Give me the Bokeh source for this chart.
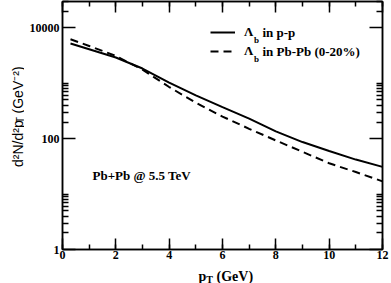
from bokeh.plotting import figure
from bokeh.models import (Range1d, FixedTicker, SingleIntervalTicker, NumeralTickFormatter,
                          LinearAxis, LogAxis, Label, Legend, LegendItem)
from bokeh.layouts import row, column
from bokeh.embed import file_html
from bokeh.resources import INLINE
import math

# ---- data ----
pt = [0.3, 1, 2, 3, 4, 5, 6, 7, 8, 9, 10, 11, 12]
lambda_b_pp = [5220, 4120, 2920, 1850, 1030, 607, 372, 231, 136, 87, 60, 42, 31]
lambda_b_pbpb = [6250, 4730, 3120, 1770, 857, 447, 251, 151, 93, 58, 36, 25, 17]

x_major = [0, 2, 4, 6, 8, 10, 12]
y_major = [1, 100, 10000]
y_minor = [2, 3, 4, 5, 6, 7, 8, 9, 10, 200, 300, 400, 500, 600, 700, 800, 900, 1000, 20000, 30000]

XMIN, XMAX = 0, 12
YMIN, YMAX = 1, 30000

SERIF = "Liberation Serif"
SANS = "Liberation Sans"

# page geometry in px (the layout is drawn from the page's top-left corner)
TOTAL_W, TOTAL_H = 391, 283
YLAB_W = 24
FL, FR, FT, FB = 62, 382, 1, 249        # frame edges
MAIN_W = TOTAL_W - YLAB_W
BOTTOM_AXIS = 14
MAIN_H = FB + BOTTOM_AXIS               # 263
XLAB_TOP = MAIN_H
XLAB_H = TOTAL_H - XLAB_TOP             # 20

p = figure(width=MAIN_W, height=MAIN_H, output_backend="svg", toolbar_location=None, title=None,
           y_axis_type="log", x_range=Range1d(XMIN, XMAX), y_range=Range1d(YMIN, YMAX),
           min_border_left=FL - YLAB_W, min_border_right=TOTAL_W - FR, min_border_top=FT,
           min_border_bottom=BOTTOM_AXIS)
p.background_fill_color = "white"
p.border_fill_color = "white"
p.outline_line_color = "black"
p.outline_line_width = 1.5
p.xgrid.visible = False
p.ygrid.visible = False

xt = SingleIntervalTicker(interval=2, num_minor_ticks=2)
yt = FixedTicker(ticks=y_major, minor_ticks=y_minor)


def style_axis(ax, is_x, labels=True):
    ax.axis_line_color = "black"
    ax.axis_line_width = 1.5
    ax.major_tick_line_color = "black"
    ax.minor_tick_line_color = "black"
    ax.major_tick_line_width = 1.5
    ax.minor_tick_line_width = 1.5
    ax.major_tick_out = 0
    ax.minor_tick_out = 0
    ax.major_tick_in = 11 if is_x else 13
    ax.minor_tick_in = 5 if is_x else 6
    ax.major_label_text_font = SERIF
    ax.major_label_text_font_style = "bold"
    if labels:
        ax.major_label_text_color = "black"
        ax.major_label_text_font_size = "12px"
        ax.major_label_standoff = 1 if is_x else 3
    else:
        ax.major_label_text_color = None
        ax.major_label_text_font_size = "0px"
        ax.major_label_standoff = 0


p.xaxis.ticker = xt
p.yaxis.ticker = yt
p.yaxis.formatter = NumeralTickFormatter(format="0")
style_axis(p.xaxis[0], True)
style_axis(p.yaxis[0], False)

top_ax = LinearAxis(ticker=xt)
style_axis(top_ax, True, labels=False)
p.add_layout(top_ax, "above")
right_ax = LogAxis(ticker=yt, formatter=NumeralTickFormatter(format="0"))
style_axis(right_ax, False, labels=False)
p.add_layout(right_ax, "right")

r_pp = p.line(pt, lambda_b_pp, line_color="black", line_width=2)
r_pbpb = p.line(pt, lambda_b_pbpb, line_color="black", line_width=2, line_dash="8 5")

# legend (keys + Lambda); subscripts and rest of text via labels
leg_left, leg_top = 210, 24
glyph_w, lab_h, spacing, standoff = 25, 16, 3, 9
leg_h = 2 * lab_h + spacing
legend = Legend(items=[LegendItem(label="Λ", renderers=[r_pp]),
                       LegendItem(label="Λ", renderers=[r_pbpb])],
                location=(leg_left - FL, FB - (leg_top + leg_h)),
                padding=0, margin=0, spacing=spacing, label_height=lab_h, glyph_height=lab_h,
                glyph_width=glyph_w, label_standoff=standoff,
                border_line_color=None, background_fill_alpha=0,
                label_text_font=SERIF, label_text_font_style="bold",
                label_text_font_size="13px", label_text_color="black")
p.add_layout(legend)


def slabel(text, sx, sy, size, font=SERIF, style="bold", baseline="alphabetic"):
    lab = Label(x=XMIN, y=YMAX, x_offset=sx - FL, y_offset=FT - sy, text=text,
                text_font=font, text_font_style=style, text_font_size=size,
                text_color="black", text_baseline=baseline)
    p.add_layout(lab)


rows = [leg_top + lab_h / 2, leg_top + lab_h + spacing + lab_h / 2]
lam_end = leg_left + glyph_w + standoff + 9.4
legend_rest = ["in p-p", "in Pb-Pb (0-20%)"]
for cy, rest in zip(rows, legend_rest):
    slabel("b", lam_end, cy + 7.5, "9px")
    slabel(rest, lam_end + 8.5, cy, "13px", baseline="middle")

# annotation in data coordinates
ann = Label(x=1.125, y=15.6, text="Pb+Pb @ 5.5 TeV", text_font=SERIF, text_font_style="bold",
            text_font_size="13px", text_color="black")
p.add_layout(ann)

# ---- y axis label strip (left) ----
yl = figure(width=YLAB_W, height=MAIN_H, output_backend="svg", toolbar_location=None, title=None,
            x_range=Range1d(0, YLAB_W), y_range=Range1d(0, MAIN_H), min_border=0,
            x_axis_location=None, y_axis_location=None)
yl.outline_line_color = None
yl.grid.visible = False
yl.background_fill_color = "white"
yl.border_fill_color = "white"


def ylabel_piece(text, page_x, page_y, size):
    yl.add_layout(Label(x=page_x, y=MAIN_H - page_y, text=text, angle=math.pi / 2,
                        text_font=SANS, text_font_size=size, text_color="black",
                        text_align="left", text_baseline="alphabetic"))


y_start = 124 + 51.5
ylabel_piece("d²N/d²p", 17, y_start, "14px")
ylabel_piece("T", 19.5, y_start - 46.7, "10px")
ylabel_piece("(GeV⁻²)", 17, y_start - 46.7 - 10.1, "14px")

# ---- x axis label strip (bottom) ----
xl = figure(width=TOTAL_W, height=XLAB_H, output_backend="svg", title=None,
            toolbar_location=None, x_range=Range1d(0, TOTAL_W),
            y_range=Range1d(0, XLAB_H), min_border=0,
            x_axis_location=None, y_axis_location=None)
xl.outline_line_color = None
xl.grid.visible = False
xl.background_fill_color = "white"
xl.border_fill_color = "white"


def xlabel_piece(text, page_x, page_y, size):
    xl.add_layout(Label(x=page_x, y=XLAB_H - (page_y - XLAB_TOP), text=text,
                        text_font=SERIF, text_font_style="bold", text_font_size=size,
                        text_color="black", text_align="left", text_baseline="alphabetic"))


xlabel_piece("p", 198, 275.5, "14px")
xlabel_piece("T", 205.8, 278.5, "10px")
xlabel_piece("(GeV)", 216, 275.5, "14px")

layout = column(row(yl, p, spacing=0), xl, spacing=0)
open("out.html", "w").write(file_html(layout, INLINE))
